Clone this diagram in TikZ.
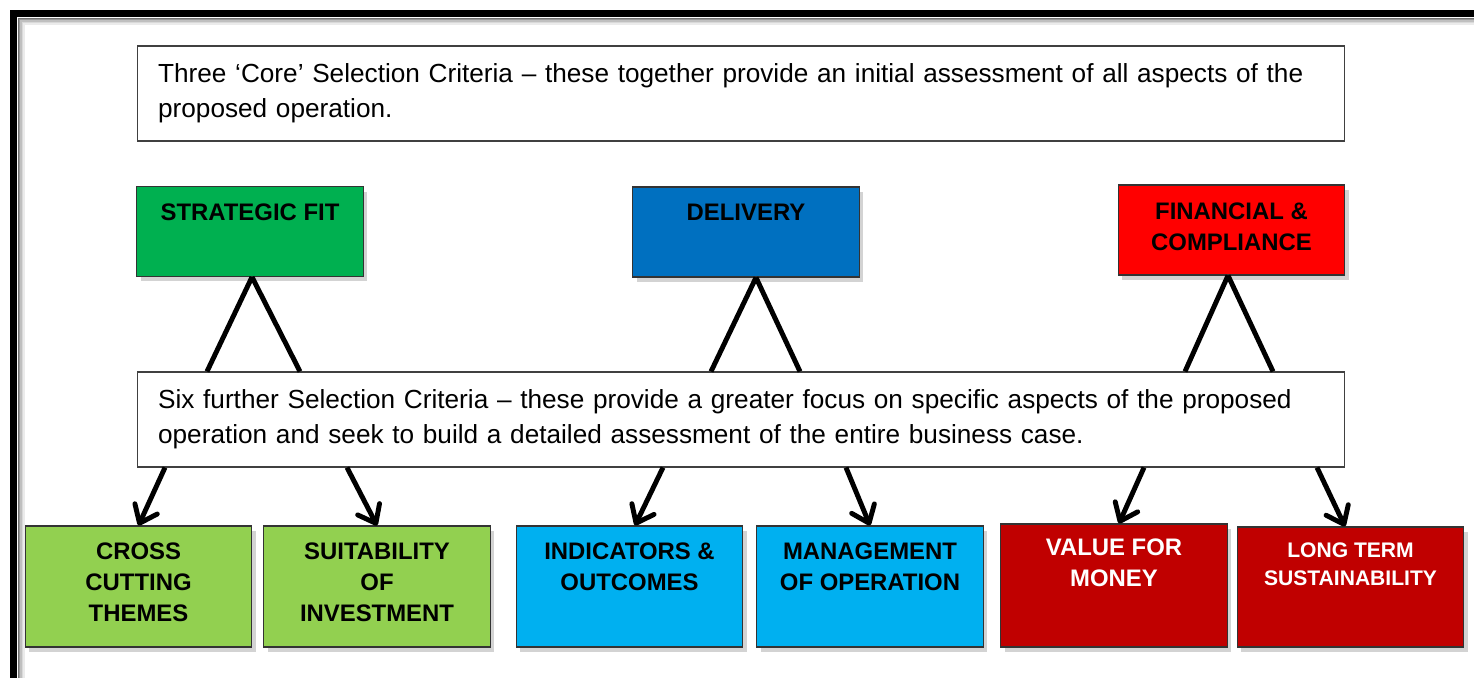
\documentclass[tikz,border=0pt]{standalone}
\usepackage{fontspec}
\setmainfont{Liberation Sans}
\usetikzlibrary{arrows.meta,shadows}

\definecolor{sfgreen}{HTML}{00B050}
\definecolor{dlblue}{HTML}{0070C0}
\definecolor{fcred}{HTML}{FF0000}
\definecolor{subgreen}{HTML}{92D050}
\definecolor{subcyan}{HTML}{00B0F0}
\definecolor{subred}{HTML}{C00000}

\begin{document}
\begin{tikzpicture}[x=0.02cm,y=-0.02cm,
		box/.style={draw=black!80, line width=.6pt, drop shadow={shadow xshift=.08cm, shadow yshift=-.1cm, opacity=.35}},
		headbox/.style={box, minimum width=4.53cm, minimum height=1.8cm},
		subbox/.style={box, minimum width=4.53cm, minimum height=2.42cm},
		note/.style={draw=black!75, line width=.6pt, fill=white, text width=23.32cm, inner xsep=.42cm, minimum height=1.9cm, align=left, font=\fontsize{14.9}{19.8}\selectfont},
		tag/.style={font=\fontsize{13.6}{17.5}\selectfont\bfseries, align=center, inner sep=0pt, anchor=north, yshift=-.34cm},
		leg/.style={line width=2.8pt},
		arr/.style={line width=2.8pt, -{Straight Barb[length=9pt,width=14pt,round]}}]
			\useasboundingbox (0,0) rectangle (1474,677);
			\clip (0,0) rectangle (1474,677);
			% frame
			\foreach \d/\c in {24/8,22.5/15,21/25,19.5/40,18.5/55}
				\draw[black!\c, line width=.03cm] (\d,700) -- (\d,\d) -- (1500,\d);
			\draw[line width=.14cm] (13.5,700) -- (13.5,13.5) -- (1500,13.5);
			
			\node[note] (core) at (741,93.5) {Three ‘Core’ Selection Criteria – these together provide an initial assessment of all aspects of the\\proposed operation.};
			\node[note] (mid) at (741,419.5) {Six further Selection Criteria – these provide a greater focus on specific aspects of the proposed\\operation and seek to build a detailed assessment of the entire business case.};
			
			\node[headbox, fill=sfgreen] (sf) at (250,231.5) [label={[tag]north:STRATEGIC FIT}] {};
			\node[headbox, fill=dlblue] (dl) at (746,232) [label={[tag]north:DELIVERY}] {};
			\node[headbox, fill=fcred] (fc) at (1231.5,230) [label={[tag, yshift=-.02cm]north:{FINANCIAL \&\\COMPLIANCE}}] {};
			
			\node[subbox, fill=subgreen] (cct) at (138.5,586.5) [label={[tag]north:{CROSS\\CUTTING\\THEMES}}] {};
			\node[subbox, fill=subgreen] (soi) at (377,586.5) [label={[tag]north:{SUITABILITY\\OF\\INVESTMENT}}] {};
			\node[subbox, fill=subcyan] (io) at (629.5,586.5) [label={[tag]north:{INDICATORS \&\\OUTCOMES}}] {};
			\node[subbox, fill=subcyan] (moo) at (870,586.5) [label={[tag]north:{MANAGEMENT\\OF OPERATION}}] {};
			\node[subbox, fill=subred, minimum height=2.46cm] (vfm) at (1114,585.5) [label={[tag, text=white, yshift=.04cm]north:{VALUE FOR\\MONEY}}] {};
			\node[subbox, fill=subred, minimum height=2.4cm] (lts) at (1350.5,587) [label={[tag, text=white, yshift=.02cm, font=\fontsize{12}{16}\selectfont\bfseries]north:{LONG TERM\\SUSTAINABILITY}}] {};
			
			\draw[leg] ([xshift=.04cm]sf.south) -- ([xshift=-.86cm]sf.south |- mid.north);
			\draw[leg] ([xshift=.04cm]sf.south) -- ([xshift=1cm]sf.south |- mid.north);
			\draw[leg] ([xshift=.2cm]dl.south) -- ([xshift=-.7cm]dl.south |- mid.north);
			\draw[leg] ([xshift=.2cm]dl.south) -- ([xshift=1.08cm]dl.south |- mid.north);
			\draw[leg] ([xshift=-.07cm]fc.south) -- ([xshift=-.93cm]fc.south |- mid.north);
			\draw[leg] ([xshift=-.07cm]fc.south) -- ([xshift=.83cm]fc.south |- mid.north);
			
			\draw[arr] ([xshift=.53cm]cct.north |- mid.south) -- (cct.north);
			\draw[arr] ([xshift=-.6cm]soi.north |- mid.south) -- (soi.north);
			\draw[arr] ([xshift=.67cm]io.north |- mid.south) -- ([xshift=.11cm]io.north);
			\draw[arr] ([xshift=-.48cm]moo.north |- mid.south) -- (moo.north);
			\draw[arr] ([xshift=.6cm]vfm.north |- mid.south) -- ([xshift=.1cm]vfm.north);
			\draw[arr] ([xshift=-.67cm]lts.north |- mid.south) -- ([xshift=-.11cm]lts.north);
		\end{tikzpicture}
\end{document}
